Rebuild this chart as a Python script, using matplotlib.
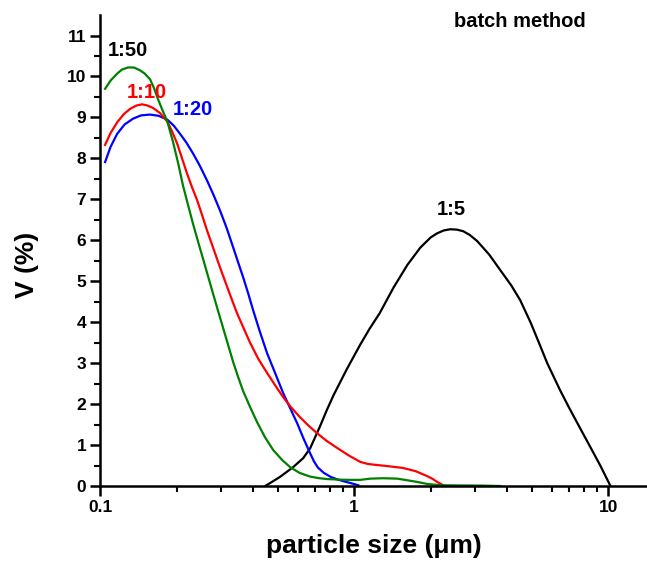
import matplotlib
matplotlib.use("Agg")
import matplotlib.pyplot as plt
from matplotlib.ticker import FixedLocator, NullFormatter

plt.rcParams['font.family'] = ['Liberation Sans', 'DejaVu Sans']
plt.rcParams['font.weight'] = 'bold'

# particle size (um) / volume (%)
x_150 = [0.1047, 0.110, 0.1168, 0.122, 0.1289, 0.136, 0.1437, 0.150, 0.1574, 0.163, 0.169,
         0.176, 0.184, 0.1938, 0.203, 0.212, 0.222, 0.2323, 0.243, 0.254, 0.265, 0.276,
         0.29, 0.305, 0.32, 0.334, 0.35, 0.3656, 0.39, 0.415, 0.445, 0.48, 0.52, 0.56, 0.61,
         0.671, 0.73, 0.783, 0.881, 0.96, 1.056, 1.156, 1.3, 1.477, 1.62, 1.77, 1.94,
         2.18, 2.6, 3.2, 3.76]
v_150 = [9.70, 9.90, 10.07, 10.17, 10.22, 10.22, 10.15, 10.07, 9.93, 9.72, 9.45,
         9.18, 8.90, 8.40, 7.88, 7.34, 6.86, 6.40, 5.97, 5.56, 5.16, 4.78,
         4.32, 3.86, 3.42, 3.03, 2.65, 2.32, 1.92, 1.56, 1.20, 0.88, 0.64, 0.46, 0.32,
         0.23, 0.19, 0.17, 0.155, 0.15, 0.15, 0.18, 0.19, 0.18, 0.14, 0.10, 0.05,
         0.02, 0.015, 0.01, 0.0]

x_110 = [0.1047, 0.110, 0.1168, 0.124, 0.1313, 0.139, 0.1463, 0.154, 0.1618, 0.172, 0.184,
         0.192, 0.2009, 0.210, 0.220, 0.230, 0.241, 0.252, 0.2637, 0.280, 0.2965, 0.3105,
         0.328, 0.346, 0.367, 0.390, 0.42, 0.4545, 0.49, 0.5255, 0.565, 0.612, 0.66, 0.714,
         0.78, 0.857, 0.95, 1.056, 1.13, 1.2, 1.38, 1.56, 1.75, 1.94, 2.04, 2.12, 2.24]
v_110 = [8.33, 8.62, 8.88, 9.08, 9.21, 9.29, 9.32, 9.29, 9.23, 9.11, 8.90,
         8.66, 8.37, 8.01, 7.63, 7.30, 6.98, 6.62, 6.24, 5.78, 5.34, 5.00,
         4.60, 4.22, 3.86, 3.49, 3.10, 2.76, 2.45, 2.17, 1.92, 1.68, 1.48, 1.29,
         1.10, 0.93, 0.75, 0.59, 0.54, 0.52, 0.48, 0.44, 0.36, 0.24, 0.17, 0.10, 0.02]

x_120 = [0.1047, 0.110, 0.1168, 0.125, 0.1349, 0.145, 0.1574, 0.170, 0.1837, 0.195, 0.2065,
         0.219, 0.2323, 0.247, 0.2637, 0.280, 0.2965, 0.315, 0.334, 0.350, 0.3656, 0.383,
         0.400, 0.425, 0.4545, 0.49, 0.5255, 0.56, 0.596, 0.632, 0.671, 0.695, 0.72, 0.76,
         0.81, 0.86, 0.905, 0.97, 1.037]
v_120 = [7.91, 8.28, 8.60, 8.83, 8.97, 9.05, 9.07, 9.04, 8.95, 8.80, 8.60,
         8.38, 8.12, 7.82, 7.46, 7.10, 6.73, 6.30, 5.83, 5.45, 5.10, 4.70,
         4.30, 3.78, 3.24, 2.74, 2.27, 1.90, 1.54, 1.16, 0.80, 0.60, 0.45, 0.32,
         0.22, 0.16, 0.12, 0.07, 0.02]

x_15 = [0.447, 0.51, 0.575, 0.63, 0.671, 0.733, 0.78, 0.83, 0.935, 1.056, 1.15, 1.26,
        1.43, 1.62, 1.82, 2.0, 2.12, 2.25, 2.39, 2.54, 2.69, 2.85, 3.05, 3.4, 3.76,
        4.15, 4.5, 4.94, 5.35, 5.75, 6.46, 7.0, 7.55, 8.5, 9.3, 10.2]
v_15 = [0.0, 0.22, 0.46, 0.68, 0.92, 1.45, 1.85, 2.22, 2.85, 3.45, 3.84, 4.22,
        4.85, 5.40, 5.82, 6.07, 6.17, 6.24, 6.27, 6.26, 6.22, 6.13, 5.98, 5.65, 5.27,
        4.90, 4.54, 4.00, 3.48, 3.00, 2.34, 1.92, 1.54, 0.95, 0.50, 0.0]

fig = plt.figure(figsize=(6.47, 5.62), dpi=100)
ax = fig.add_axes([0.1546, 0.1352, 0.8454, 0.838])

ax.plot(x_15, v_15, color='black', lw=1.6)
ax.plot(x_120, v_120, color='#0000ff', lw=1.6)
ax.plot(x_110, v_110, color='#ff0000', lw=1.6)
ax.plot(x_150, v_150, color='#008000', lw=1.6)

ax.set_xscale('log')
ax.set_xlim(0.1, 14.2)
ax.set_ylim(0, 11.5)
ax.xaxis.set_major_locator(FixedLocator([0.1, 1, 10]))
ax.set_xticklabels(['0.1', '1', '10'])
ax.xaxis.set_minor_locator(FixedLocator([k * d for d in (0.1, 1) for k in range(2, 10)]))
ax.xaxis.set_minor_formatter(NullFormatter())
ax.set_yticks(range(0, 12))
ax.yaxis.set_minor_locator(FixedLocator([i + 0.5 for i in range(0, 11)]))

for s in ['top', 'right']:
    ax.spines[s].set_visible(False)
for s in ['left', 'bottom']:
    ax.spines[s].set_linewidth(1.8)
ax.tick_params(which='major', direction='out', length=7, width=1.8, labelsize=12.5, pad=3)
ax.tick_params(which='minor', direction='out', length=4, width=1.5)
for lab in ax.get_xticklabels() + ax.get_yticklabels():
    lab.set_fontweight('bold')

ax.set_xlabel('particle size (μm)', fontsize=19, fontweight='bold', labelpad=14)
ax.set_ylabel('V (%)', fontsize=19, fontweight='bold')
ax.yaxis.set_label_coords(-0.112, 0.47)

ax.text(0.1289, 10.63, '1:50', color='black', fontsize=14.5, fontweight='bold', ha='center', va='center')
ax.text(0.153, 9.61, '1:10', color='#ff0000', fontsize=14.5, fontweight='bold', ha='center', va='center')
ax.text(0.2323, 9.2, '1:20', color='#0000ff', fontsize=14.5, fontweight='bold', ha='center', va='center')
ax.text(2.41, 6.75, '1:5', color='black', fontsize=14.5, fontweight='bold', ha='center', va='center')
ax.text(4.5, 11.34, 'batch method', color='black', fontsize=14.5, fontweight='bold', ha='center', va='center')

fig.savefig('out.png', dpi=100)
